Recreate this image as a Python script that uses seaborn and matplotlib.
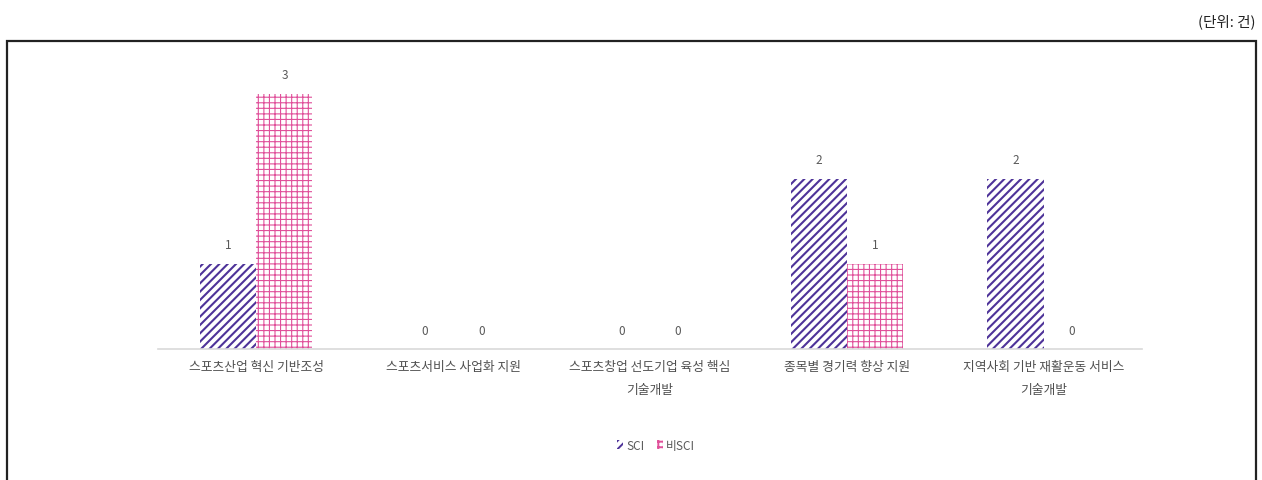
import matplotlib
matplotlib.use("Agg")
import matplotlib.pyplot as plt
from matplotlib.patches import Rectangle, Patch
import seaborn as sns
import pandas as pd

categories = [
    "스포츠산업 혁신 기반조성",
    "스포츠서비스 사업화 지원",
    "스포츠창업 선도기업 육성 핵심\n기술개발",
    "종목별 경기력 향상 지원",
    "지역사회 기반 재활운동 서비스\n기술개발",
]
series_names = ["SCI", "비SCI"]
sci_counts = [1, 0, 0, 2, 2]
non_sci_counts = [3, 0, 0, 1, 0]
unit_note = "(단위: 건)"

sci_color = "#4e3399"
non_sci_color = "#e0509a"
hatches = {"SCI": "////", "비SCI": "+++"}
colors = {"SCI": sci_color, "비SCI": non_sci_color}

df = pd.DataFrame({
    "category": categories * 2,
    "series": [series_names[0]] * len(categories) + [series_names[1]] * len(categories),
    "count": sci_counts + non_sci_counts,
})

sns.set_theme(style="white")
plt.rcParams["font.family"] = ["Noto Sans CJK KR", "DejaVu Sans"]
plt.rcParams["hatch.linewidth"] = 1.4

fig = plt.figure(figsize=(12.62, 4.81), dpi=100)
ax = fig.add_axes([0.1252, 0.2723, 0.7797, 0.584])

sns.barplot(data=df, x="category", y="count", hue="series", order=categories,
            hue_order=series_names, palette=colors, width=0.57, gap=0,
            ax=ax, legend=False, saturation=1)

for container, name in zip(ax.containers, series_names):
    for bar in container:
        bar.set_facecolor("white")
        bar.set_edgecolor(colors[name])
        bar.set_linewidth(0)
        bar.set_hatch(hatches[name])
        if hasattr(bar, "set_hatch_linewidth"):
            bar.set_hatch_linewidth(1.5 if name == "SCI" else 0.8)
    ax.bar_label(container, labels=[f"{int(v)}" for v in container.datavalues],
                 padding=9, fontsize=8.5, color="#595959")

ax.set_ylim(0, 3.3)
ax.set_xlim(-0.5, len(categories) - 0.5)
ax.set_xlabel("")
ax.set_ylabel("")
ax.set_yticks([])
for side in ["top", "right", "left"]:
    ax.spines[side].set_visible(False)
ax.spines["bottom"].set_color("#d9d9d9")
ax.spines["bottom"].set_linewidth(1.2)

# category separators on the baseline
ax.set_xticks([i - 0.5 for i in range(len(categories) + 1)], minor=True)
ax.tick_params(axis="x", which="minor", length=5, width=1, color="#d9d9d9", direction="out")
ax.tick_params(axis="x", which="major", length=0, pad=8)
ax.set_xticks(range(len(categories)))
ax.set_xticklabels(categories, fontsize=9.2, color="#505050", linespacing=2.0, va="top")

handles = [Patch(facecolor="white", edgecolor=colors[n], hatch=hatches[n], linewidth=0)
           for n in series_names]
fig.legend(handles, series_names, loc="center", bbox_to_anchor=(0.52, 0.072),
           ncol=2, frameon=False, fontsize=8.5, handlelength=0.5, handleheight=0.8,
           handletextpad=0.3, columnspacing=1.0, labelcolor="#595959")

# outer frame and unit note
fig.patches.append(Rectangle((0.0055, -0.01), 0.9897, 0.923, transform=fig.transFigure,
                             fill=False, edgecolor="#222222", linewidth=1.6))
fig.text(0.995, 0.955, unit_note, ha="right", va="center", fontsize=10.5, color="#222222")

fig.savefig("out.png", dpi=100, facecolor="white")
